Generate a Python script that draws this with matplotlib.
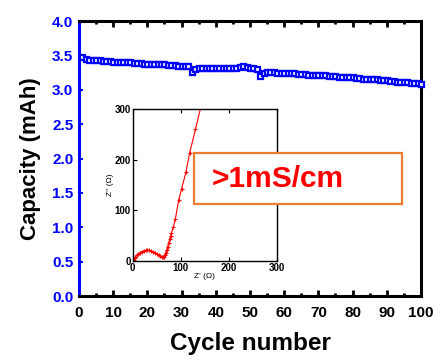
import numpy as np
import matplotlib.pyplot as plt
from matplotlib.patches import Rectangle
from matplotlib.ticker import MultipleLocator

plt.rcParams['font.family'] = ['Liberation Sans', 'DejaVu Sans']

# capacity vs cycle
cycles = list(range(1, 101))
capacity = [3.47, 3.45, 3.44, 3.44, 3.43, 3.43, 3.42, 3.42, 3.42, 3.41,
            3.41, 3.41, 3.40, 3.40, 3.40, 3.39, 3.39, 3.39, 3.38, 3.38,
            3.38, 3.37, 3.37, 3.37, 3.37, 3.36, 3.36, 3.36, 3.35, 3.35,
            3.35, 3.34, 3.26, 3.30, 3.32, 3.32, 3.32, 3.32, 3.32, 3.32,
            3.31, 3.31, 3.31, 3.31, 3.31, 3.32, 3.33, 3.35, 3.33, 3.32,
            3.31, 3.30, 3.20, 3.25, 3.26, 3.26, 3.26, 3.25, 3.25, 3.25,
            3.24, 3.24, 3.24, 3.23, 3.23, 3.23, 3.22, 3.22, 3.22, 3.21,
            3.21, 3.21, 3.20, 3.20, 3.20, 3.19, 3.19, 3.18, 3.18, 3.18,
            3.17, 3.17, 3.16, 3.16, 3.16, 3.15, 3.15, 3.14, 3.14, 3.14,
            3.13, 3.13, 3.12, 3.12, 3.11, 3.11, 3.10, 3.10, 3.10, 3.09]

# impedance (Nyquist) inset
z_re = [1, 2, 4, 6, 9, 12, 15, 19, 23, 27, 31, 35, 39, 43, 47, 51, 55, 58,
        61, 63, 65, 67, 69, 71, 73, 75, 77, 79, 81, 85, 89, 96, 102, 111,
        119, 131, 146]
z_im = [0.5, 2, 5, 8, 11, 14, 16, 18, 19.5, 20.5, 21, 20.5, 19.5, 18, 16,
        13.5, 11, 9, 7.5, 7, 8, 11, 16, 22, 28, 35, 42, 49, 55, 67, 82, 120,
        142, 175, 214, 260, 320]

blue = '#0000FF'

fig = plt.figure(figsize=(4.45, 3.61), dpi=100)
ax = fig.add_axes([0.1775, 0.18, 0.7685, 0.7618])
ax.plot(cycles, capacity, '-', color=blue, lw=1, marker='s', ms=3.6, mfc='white',
        mec=blue, mew=1.6, clip_on=False, zorder=3)
ax.set_xlim(0, 100)
ax.set_ylim(0, 4.0)
ax.xaxis.set_major_locator(MultipleLocator(10))
ax.xaxis.set_minor_locator(MultipleLocator(5))
ax.yaxis.set_major_locator(MultipleLocator(0.5))
for s in ['top', 'right', 'bottom']:
    ax.spines[s].set_linewidth(2.2)
    ax.spines[s].set_color('black')
ax.spines['left'].set_linewidth(2.2)
ax.spines['left'].set_color(blue)
ax.tick_params(axis='x', which='both', direction='in', top=True, width=2, length=4,
               labelsize=11, pad=7)
ax.tick_params(axis='x', which='minor', length=2.5)
ax.tick_params(axis='y', direction='in', length=3, width=1.5, color=blue,
               labelcolor=blue, labelsize=11, pad=4)
for lab in ax.get_xticklabels() + ax.get_yticklabels():
    lab.set_fontweight('bold')
ax.set_xlabel('Cycle number', fontsize=17.5, fontweight='bold', labelpad=9)
ax.set_ylabel('Capacity (mAh)', fontsize=16, fontweight='bold', labelpad=8)

# inset
ins = fig.add_axes([0.298, 0.2778, 0.3236, 0.420])
ins.plot(z_re, z_im, '-', color='red', lw=0.8, marker='+', ms=3.5, mew=0.8)
ins.set_xlim(0, 300)
ins.set_ylim(0, 300)
ins.xaxis.set_major_locator(MultipleLocator(100))
ins.yaxis.set_major_locator(MultipleLocator(100))
for s in ins.spines.values():
    s.set_linewidth(1)
ins.tick_params(direction='in', top=True, length=3, width=0.8, labelsize=7, pad=1.5)
for lab in ins.get_xticklabels() + ins.get_yticklabels():
    lab.set_fontweight('bold')
ins.set_xlabel("Z' (\u03a9)", fontsize=6, labelpad=0)
ins.set_ylabel("Z'' (\u03a9)", fontsize=6, labelpad=0)

# conductivity box
fig.patches.append(Rectangle((194 / 445, 1 - 204 / 361), 208 / 445, 51 / 361,
                             transform=fig.transFigure, facecolor='white',
                             edgecolor='#ED7D31', lw=1.6, zorder=10))
fig.text(212 / 445, 1 - 179 / 361, '>1mS/cm', color='red', fontsize=21.5,
         fontweight='bold', ha='left', va='center', zorder=11)

fig.savefig('out.png', dpi=100)
